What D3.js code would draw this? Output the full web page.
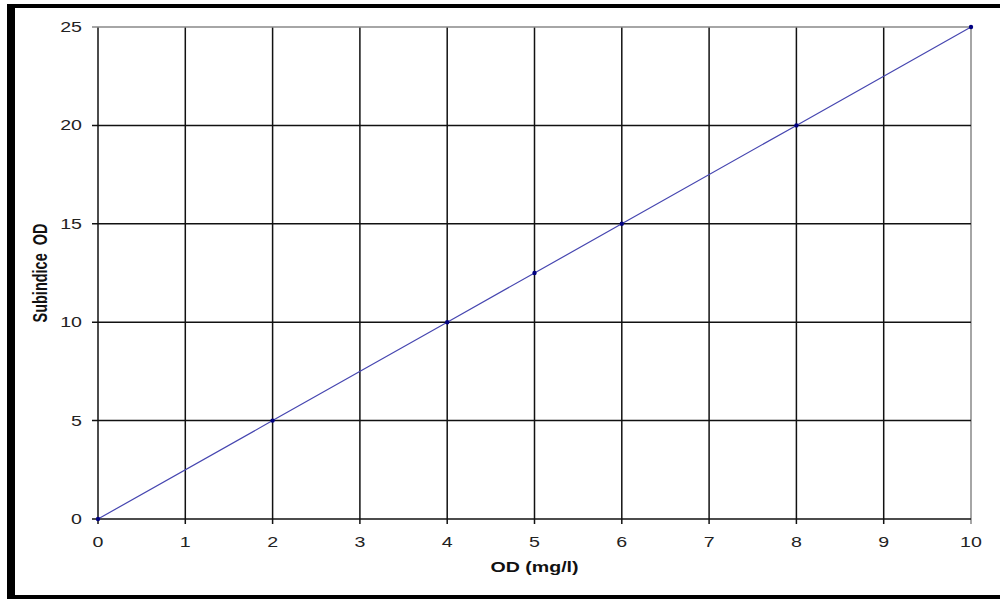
<!DOCTYPE html>
<html><head><meta charset="utf-8">
<script src="https://cdn.jsdelivr.net/npm/d3@7"></script>
<style>body{margin:0;background:#fff;}svg{display:block;}</style>
</head><body>
<svg id="c" width="1000" height="599"></svg>
<script>
const xValues = [0, 2, 4, 5, 6, 8, 10];
const yValues = [0, 5, 10, 12.5, 15, 20, 25];
const xTicks = [0,1,2,3,4,5,6,7,8,9,10];
const yTicks = [0,5,10,15,20,25];
const xTitle = "OD (mg/l)";
const yTitle = "Subindice  OD";

const svg = d3.select("#c");
const L = 98, R = 971, T = 27, B = 519;
const SX = 1.4;
const x = d3.scaleLinear().domain([0,10]).range([L,R]);
const y = d3.scaleLinear().domain([0,25]).range([B,T]);

// frame
svg.append("rect").attr("x",7).attr("y",4).attr("width",8).attr("height",595).attr("fill","#000");
svg.append("rect").attr("x",7).attr("y",4).attr("width",993).attr("height",4).attr("fill","#000");
svg.append("rect").attr("x",7).attr("y",595).attr("width",993).attr("height",4).attr("fill","#000");

// grid
const g = svg.append("g");
xTicks.forEach(t => {
  g.append("line").attr("x1",x(t)).attr("x2",x(t)).attr("y1",T).attr("y2",B+5)
   .attr("stroke", t===10 ? "#888" : "#111").attr("stroke-width",1.5);
});
yTicks.forEach(t => {
  g.append("line").attr("x1",L-6).attr("x2",R).attr("y1",y(t)).attr("y2",y(t))
   .attr("stroke", t===25 ? "#888" : "#111").attr("stroke-width",1.5);
});

// tick labels
const font = "'Liberation Sans', Arial, sans-serif";
svg.append("g").selectAll("text").data(xTicks).join("text")
  .attr("transform",d=>`translate(${x(d)},547) scale(${SX},1)`).attr("text-anchor","middle")
  .attr("font-family",font).attr("font-size",14).attr("fill","#222").text(d=>d);
svg.append("g").selectAll("text").data(yTicks).join("text")
  .attr("transform",d=>`translate(82,${y(d)+5}) scale(${SX},1)`).attr("text-anchor","end")
  .attr("font-family",font).attr("font-size",14).attr("fill","#222").text(d=>d);

// titles
svg.append("text").attr("transform",`translate(${(L+R)/2},572) scale(${SX},1)`).attr("text-anchor","middle")
  .attr("font-family",font).attr("font-size",14).attr("font-weight","bold").attr("fill","#111").text(xTitle);
svg.append("text").attr("transform",`translate(46.5,${(T+B)/2}) rotate(-90) scale(1,${SX})`).attr("text-anchor","middle")
  .attr("font-family",font).attr("font-size",14.5).attr("font-weight","bold").attr("fill","#111")
  .attr("xml:space","preserve").style("white-space","pre").text(yTitle);

// line
const data = xValues.map((v,i)=>[v,yValues[i]]);
svg.append("path").datum(data)
  .attr("d", d3.line().x(d=>x(d[0])).y(d=>y(d[1])))
  .attr("fill","none").attr("stroke","#4646b0").attr("stroke-width",1.2);
svg.append("g").selectAll("circle").data(data).join("circle")
  .attr("cx",d=>x(d[0])).attr("cy",d=>y(d[1])).attr("r",2.2).attr("fill","#000080");
</script>
</body></html>
